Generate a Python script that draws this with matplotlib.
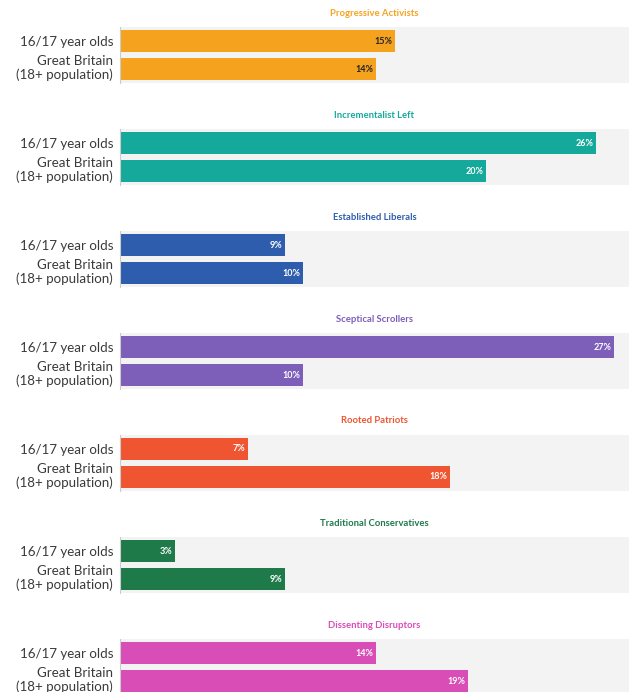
import matplotlib.pyplot as plt

segments = ["Progressive Activists", "Incrementalist Left", "Established Liberals",
            "Sceptical Scrollers", "Rooted Patriots", "Traditional Conservatives",
            "Dissenting Disruptors"]
teens = [15, 26, 9, 27, 7, 3, 14]
adults = [14, 20, 10, 10, 18, 9, 19]
colors = ["#F5A31F", "#14A99B", "#2E5DAD", "#7D5FBA", "#EE5530", "#1F7A4A", "#D84DB6"]
group_labels = ["16/17 year olds", "Great Britain\n(18+ population)"]

W, H = 629, 692
fig = plt.figure(figsize=(W / 100, H / 100), dpi=100)
fig.patch.set_facecolor("white")

left_px, right_px = 120, 629
for k, seg in enumerate(segments):
    top_px = 27 + 102 * k
    bot_px = 83 + 102 * k
    ax = fig.add_axes([left_px / W, 1 - bot_px / H, (right_px - left_px) / W, (bot_px - top_px) / H])
    ax.set_facecolor("#F3F3F3")
    vals = [teens[k], adults[k]]
    ax.barh([0, 1], vals, height=0.82, color=colors[k])
    ax.set_xlim(0, 27.8)
    ax.set_ylim(1.5, -0.5)
    txt_col = "#222222" if k == 0 else "white"
    for i, v in enumerate(vals):
        ax.text(v - 0.15, i, f"{v}%", ha="right", va="center", fontsize=6.5,
                fontweight="bold", color=txt_col, family="Lato")
    ax.set_xticks([])
    # second label sits a touch above its bar centre, as in the original
    ax.set_yticks([0, 0.9])
    ax.set_yticklabels(group_labels, fontsize=9.6, color="#3A3A3A", family="Lato",
                       linespacing=1.15)
    ax.tick_params(axis="y", length=0, pad=5)
    for s in ["top", "right", "bottom"]:
        ax.spines[s].set_visible(False)
    ax.spines["left"].set_color("#CCCCCC")
    ax.spines["left"].set_linewidth(0.8)
    ax.text(0.5, 1 + 14 / (bot_px - top_px), seg, transform=ax.transAxes, ha="center",
            va="center", fontsize=6.8, fontweight="bold", color=colors[k], family="Lato")

fig.savefig("out.png", dpi=100)
